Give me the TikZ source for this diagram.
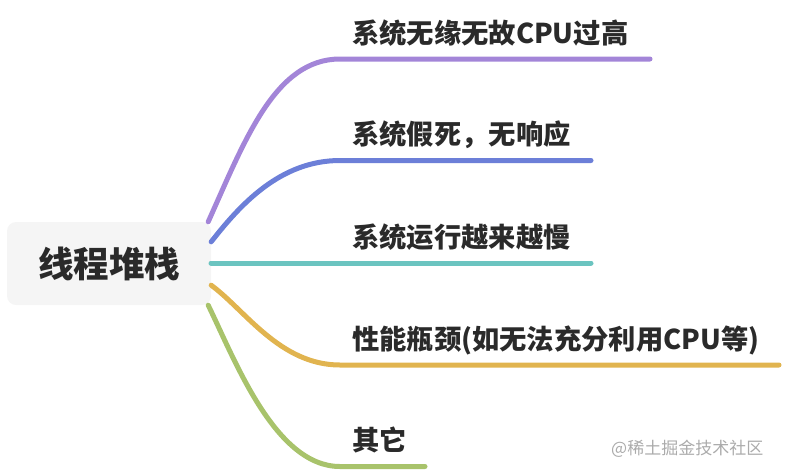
\documentclass[tikz,border=0pt]{standalone}
\usepackage{fontspec}
\setmainfont{Noto Sans CJK SC}
\usetikzlibrary{positioning}

\definecolor{rootfill}{HTML}{F5F5F5}
\definecolor{inkdark}{HTML}{2A2A2A}
\definecolor{markgray}{HTML}{ABABAB}
\definecolor{brpurple}{HTML}{A385D8}
\definecolor{brblue}{HTML}{6C7FD8}
\definecolor{brteal}{HTML}{6BC4C0}
\definecolor{brgold}{HTML}{E1B44F}
\definecolor{brgreen}{HTML}{A8C36B}

\begin{document}
\begin{tikzpicture}[x=1pt, y=-1pt,
  branch/.style={line width=5pt, line cap=round},
  leaf/.style={anchor=base west, inner sep=0pt, text=inkdark,
    font=\fontsize{27.3}{31}\selectfont\bfseries},
  rootbox/.style={fill=rootfill, rounded corners=9pt, minimum width=204pt,
    minimum height=83pt, inner sep=0pt, text=inkdark,
    font=\fontsize{35.5}{41}\selectfont\bfseries}]

  % -- Canvas --
  \useasboundingbox (0,0) rectangle (786,472);

  % -- Root Topic --
  \node[rootbox] (root) at (109,263.5) {线程堆栈};

  % -- Branch Ends --
  \coordinate (cpuA) at (340,59);     \coordinate (cpuB) at (650,59);
  \coordinate (hangA) at (340,160.5); \coordinate (hangB) at (591,160.5);
  \coordinate (slowA) at (211,263);   \coordinate (slowB) at (591,263);
  \coordinate (perfA) at (340,365);   \coordinate (perfB) at (779,365);
  \coordinate (otherA) at (340,466.5);\coordinate (otherB) at (425,466.5);

  % -- Branches --
  \draw[branch, brpurple] ([xshift=-3pt]root.north east) .. controls (245,140) and (275,59) .. (cpuA) -- (cpuB);
  \draw[branch, brblue] ([yshift=-20pt]root.north east) .. controls (240,205) and (280,160.5) .. (hangA) -- (hangB);
  \draw[branch, brteal] (slowA) -- (slowB);
  \draw[branch, brgold] ([yshift=20pt]root.south east) .. controls (245,310) and (280,365) .. (perfA) -- (perfB);
  \draw[branch, brgreen] ([xshift=-3pt]root.south east) .. controls (235,360) and (275,466.5) .. (otherA) -- (otherB);

  % -- Branch Labels --
  \node[leaf] (cpu) at (352,43) {系统无缘无故CPU过高};
  \node[leaf] (hang) at (352,144.5) {系统假死，无响应};
  \node[leaf] (slow) at (352,247) {系统运行越来越慢};
  \node[leaf] (perf) at (352,349) {性能瓶颈(如无法充分利用CPU等)};
  \node[leaf] (other) at (352,450.5) {其它};

  % -- Watermark --
  \node[anchor=base west, inner sep=0pt, text=markgray, font=\fontsize{17}{20}\selectfont] (mark) at (611,454) {@稀土掘金技术社区};

\end{tikzpicture}
\end{document}
